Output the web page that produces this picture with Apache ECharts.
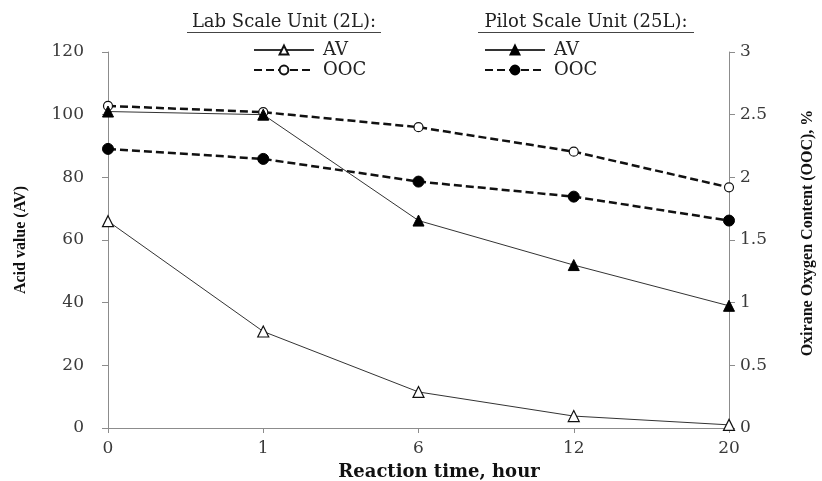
<!DOCTYPE html>
<html>
<head>
<meta charset="utf-8">
<script src="https://cdn.jsdelivr.net/npm/echarts@6/dist/echarts.min.js"></script>
<style>
  html, body { margin: 0; padding: 0; background: #fff; }
  #chart { width: 822px; height: 481px; }
</style>
</head>
<body>
<div id="chart"></div>
<script>
// 反应时间 (h)
const hours = ["0", "1", "6", "12", "20"];
// 实验室规模 2L
const labAV = [66, 30.8, 11.5, 3.8, 1.0];
const labOOC = [2.57, 2.52, 2.40, 2.205, 1.92];
// 中试规模 25L
const pilotAV = [101, 100, 66.2, 52, 39];
const pilotOOC = [2.227, 2.147, 1.966, 1.846, 1.655];

const serif = "DejaVu Serif";
const axisGray = "#8c8c8c";
const labelColor = "#3a3a3a";

const chart = echarts.init(document.getElementById("chart"));

// 图例文字去掉前缀
const legendText = (name) => name.split(" ")[1];

const legendBase = {
  orient: "vertical",
  padding: 0,
  itemWidth: 60,
  itemHeight: 11,
  itemGap: 0,
  formatter: legendText,
  textStyle: { fontFamily: serif, fontSize: 18, lineHeight: 20, color: "#222", padding: [0, 0, 0, 4] },
};

chart.setOption({
  animation: false,
  backgroundColor: "#fff",
  grid: { left: 108, right: 93, top: 52, bottom: 53 },
  legend: [
    Object.assign({ left: 253, top: 40, data: ["Lab AV", "Lab OOC"] }, legendBase),
    Object.assign({ left: 484, top: 40, data: ["Pilot AV", "Pilot OOC"] }, legendBase),
  ],
  xAxis: {
    type: "category",
    data: hours,
    boundaryGap: false,
    axisLine: { lineStyle: { color: axisGray, width: 1 } },
    axisTick: { alignWithLabel: true, length: 5, lineStyle: { color: axisGray } },
    axisLabel: { fontFamily: serif, fontSize: 17, color: labelColor, margin: 12 },
    splitLine: { show: false },
  },
  yAxis: [
    {
      type: "value",
      min: 0,
      max: 120,
      interval: 20,
      axisLine: { show: true, lineStyle: { color: axisGray, width: 1 } },
      axisTick: { show: true, length: 6, lineStyle: { color: axisGray } },
      axisLabel: { fontFamily: serif, fontSize: 17, color: labelColor, margin: 24 },
      splitLine: { show: false },
    },
    {
      type: "value",
      position: "right",
      min: 0,
      max: 3,
      interval: 0.5,
      axisLine: { show: true, lineStyle: { color: axisGray, width: 1 } },
      axisTick: { show: true, length: 6, lineStyle: { color: axisGray } },
      axisLabel: { fontFamily: serif, fontSize: 17, color: labelColor, margin: 11 },
      splitLine: { show: false },
    },
  ],
  graphic: [
    {
      type: "text",
      x: 21,
      y: 240,
      rotation: Math.PI / 2,
      style: {
        text: "Acid value (AV)",
        fontFamily: "Liberation Serif",
        fontWeight: "bold",
        fontSize: 16,
        fill: "#111",
        align: "center",
        verticalAlign: "middle",
      },
    },
    {
      type: "text",
      x: 808,
      y: 233,
      rotation: Math.PI / 2,
      style: {
        text: "Oxirane Oxygen Content (OOC), %",
        fontFamily: "Liberation Serif",
        fontWeight: "bold",
        fontSize: 16,
        fill: "#111",
        align: "center",
        verticalAlign: "middle",
      },
    },
    {
      type: "text",
      x: 439,
      y: 472,
      style: {
        text: "Reaction time, hour",
        fontFamily: serif,
        fontWeight: "bold",
        fontSize: 18,
        fill: "#111",
        align: "center",
        verticalAlign: "middle",
      },
    },
    {
      type: "text",
      x: 284,
      y: 22,
      style: {
        text: "Lab Scale Unit (2L):",
        fontFamily: serif,
        fontSize: 18,
        fill: "#222",
        align: "center",
        verticalAlign: "middle",
      },
    },
    { type: "line", shape: { x1: 187, y1: 32.5, x2: 381, y2: 32.5 }, style: { stroke: "#444", lineWidth: 1 } },
    {
      type: "text",
      x: 586,
      y: 22,
      style: {
        text: "Pilot Scale Unit (25L):",
        fontFamily: serif,
        fontSize: 18,
        fill: "#222",
        align: "center",
        verticalAlign: "middle",
      },
    },
    { type: "line", shape: { x1: 478, y1: 32.5, x2: 694, y2: 32.5 }, style: { stroke: "#444", lineWidth: 1 } },
  ],
  series: [
    {
      name: "Lab AV",
      type: "line",
      yAxisIndex: 0,
      data: labAV,
      symbol: "triangle",
      symbolSize: 11,
      lineStyle: { color: "#333", width: 1 },
      itemStyle: { color: "#fff", borderColor: "#111", borderWidth: 1.2 },
      z: 3,
    },
    {
      name: "Lab OOC",
      type: "line",
      yAxisIndex: 1,
      data: labOOC,
      symbol: "circle",
      symbolSize: 9,
      lineStyle: { color: "#111", width: 2.5, type: [8, 4] },
      itemStyle: { color: "#fff", borderColor: "#111", borderWidth: 1.2 },
      z: 2,
    },
    {
      name: "Pilot AV",
      type: "line",
      yAxisIndex: 0,
      data: pilotAV,
      symbol: "triangle",
      symbolSize: 11,
      lineStyle: { color: "#333", width: 1 },
      itemStyle: { color: "#000", borderColor: "#000", borderWidth: 1 },
      z: 3,
    },
    {
      name: "Pilot OOC",
      type: "line",
      yAxisIndex: 1,
      data: pilotOOC,
      symbol: "circle",
      symbolSize: 11,
      lineStyle: { color: "#111", width: 2.5, type: [8, 4] },
      itemStyle: { color: "#000", borderColor: "#000", borderWidth: 1 },
      z: 2,
    },
  ],
});
</script>
</body>
</html>
